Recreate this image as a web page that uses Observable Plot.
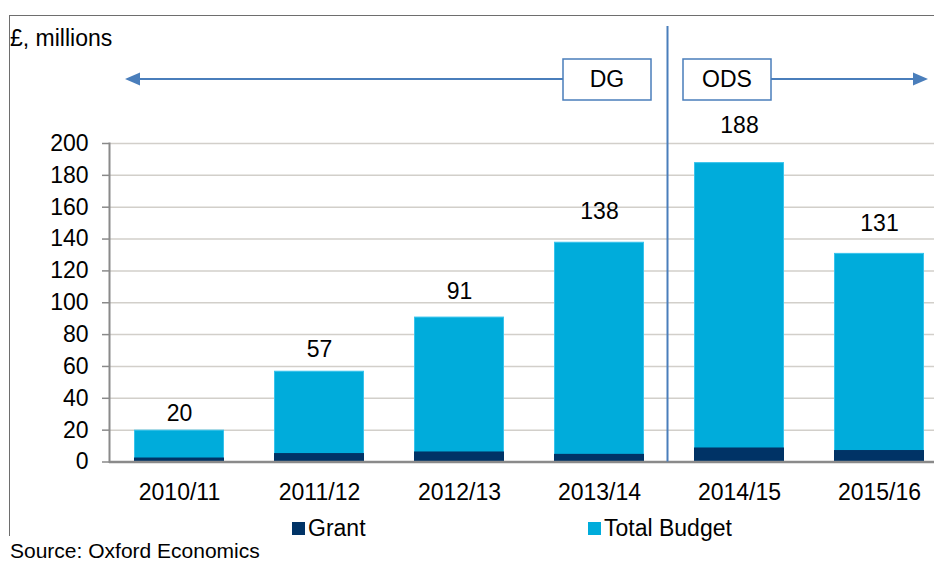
<!DOCTYPE html>
<html><head><meta charset="utf-8">
<script src="https://cdn.jsdelivr.net/npm/d3@7"></script>
<script src="https://cdn.jsdelivr.net/npm/@observablehq/plot@0.6"></script>
<style>
html,body{margin:0;padding:0;background:#fff;}
#wrap{position:relative;width:934px;height:561px;overflow:hidden;font-family:"Liberation Sans",Arial,sans-serif;color:#000;}
#frame{position:absolute;left:9px;top:15px;width:940px;height:521px;border-top:1px solid #6e6e6e;border-left:1px solid #6e6e6e;box-sizing:border-box;}
#chart{position:absolute;left:0;top:0;width:949px;}
#chart svg{max-width:none !important;}
.sw{position:absolute;width:13px;height:13px;}
.lt{position:absolute;font-size:23px;line-height:24px;white-space:nowrap;}
#source{position:absolute;left:10px;top:540px;white-space:nowrap;font-size:21px;line-height:22px;}
</style>
</head><body>
<div id="wrap">
  <div id="frame"></div>
  <div id="chart"></div>
  <div id="legend"></div>
  <div id="source">Source: Oxford Economics</div>
</div>
<script>
const years = ["2010/11", "2011/12", "2012/13", "2013/14", "2014/15", "2015/16"];
const totalBudget = [20, 57, 91, 138, 188, 131];
const grant = [2.5, 5.3, 6.3, 4.8, 8.8, 7.2];
const yTicks = [0, 20, 40, 60, 80, 100, 120, 140, 160, 180, 200];
const seriesNames = ["Grant", "Total Budget"];
const seriesColors = ["#003366", "#00acdb"];
const periodLabels = ["DG", "ODS"];
const unitLabel = "£, millions";

const rows = years.map((year, i) => ({year, total: totalBudget[i], grant: grant[i]}));

const W = 949, H = 505;
const FS = 23;
const chart = Plot.plot({
  width: W, height: H,
  marginLeft: 109, marginRight: 0, marginTop: 143, marginBottom: H - 461.5,
  style: {fontFamily: '"Liberation Sans", Arial, sans-serif', fontSize: FS + "px", color: "#000", background: "transparent", overflow: "visible", maxWidth: "none"},
  x: {domain: years, paddingInner: 50 / 140, paddingOuter: 25 / 140, align: 0.5},
  y: {domain: [0, 200]},
  marks: [
    Plot.gridY(yTicks, {stroke: "#d2cfca", strokeOpacity: 1, strokeWidth: 1.5}),
    Plot.barY(rows, {x: "year", y: "total", fill: seriesColors[1], stroke: "#38c3ec", strokeWidth: 1, inset: 0.5}),
    Plot.barY(rows, {x: "year", y: "grant", fill: seriesColors[0], inset: 0}),
    Plot.ruleY([0], {stroke: "#8a8a8a", strokeWidth: 2.5}),
    Plot.axisY(yTicks, {tickSize: 7, tickPadding: 14, stroke: "#8a8a8a", strokeWidth: 1.5, fontSize: FS, label: null, tickFormat: d => String(d)}),
    Plot.frame({anchor: "left", stroke: "#8a8a8a", strokeWidth: 2}),
    Plot.axisX({tickSize: 0, tickPadding: 22, fontSize: FS, label: null}),
    Plot.text(rows, {x: "year", y: d => d.total * 1.075 + 9, text: d => String(d.total), fontSize: FS, lineAnchor: "middle", fill: "#000"})
  ]
});
chart.style.maxWidth = "none";
document.getElementById("chart").appendChild(chart);

// annotations
const svg = d3.select(chart);
const xs = chart.scale("x");
const ys = chart.scale("y");
const blue = "#4a7ebb";
const divX = xs.apply(years[4]) - (xs.step - xs.bandwidth) / 2 - 1.5;
const g = svg.append("g").attr("text-anchor", "start");
g.append("line").attr("x1", divX).attr("x2", divX).attr("y1", 26).attr("y2", ys.apply(0))
  .attr("stroke", blue).attr("stroke-width", 2);
const arrowY = 79;
const boxes = [{label: periodLabels[0], x0: 563, x1: 651}, {label: periodLabels[1], x0: 683, x1: 771}];
// left arrow
g.append("line").attr("x1", 138).attr("x2", boxes[0].x0).attr("y1", arrowY).attr("y2", arrowY).attr("stroke", blue).attr("stroke-width", 2);
g.append("path").attr("d", `M125,${arrowY} L140,${arrowY - 6.5} L140,${arrowY + 6.5} Z`).attr("fill", blue);
// right arrow
g.append("line").attr("x1", boxes[1].x1).attr("x2", 914).attr("y1", arrowY).attr("y2", arrowY).attr("stroke", blue).attr("stroke-width", 2);
g.append("path").attr("d", `M928,${arrowY} L913,${arrowY - 6.5} L913,${arrowY + 6.5} Z`).attr("fill", blue);
for (const b of boxes) {
  g.append("rect").attr("x", b.x0).attr("y", 59).attr("width", b.x1 - b.x0).attr("height", 41)
    .attr("fill", "#fff").attr("stroke", blue).attr("stroke-width", 1.5);
  g.append("text").attr("x", (b.x0 + b.x1) / 2).attr("y", arrowY + 8).attr("text-anchor", "middle")
    .attr("font-size", FS).attr("fill", "#000").text(b.label);
}
g.append("text").attr("x", 10).attr("y", 46).attr("text-anchor", "start").attr("font-size", FS).attr("fill", "#000").text(unitLabel);

// legend
const legend = document.getElementById("legend");
const legX = [292, 588];
seriesNames.forEach((name, i) => {
  const sw = document.createElement("div");
  sw.className = "sw";
  sw.style.left = legX[i] + "px";
  sw.style.top = "522px";
  sw.style.background = seriesColors[i];
  legend.appendChild(sw);
  const t = document.createElement("div");
  t.className = "lt";
  t.style.left = (legX[i] + 16) + "px";
  t.style.top = "516px";
  t.textContent = name;
  legend.appendChild(t);
});
</script>
</body></html>
